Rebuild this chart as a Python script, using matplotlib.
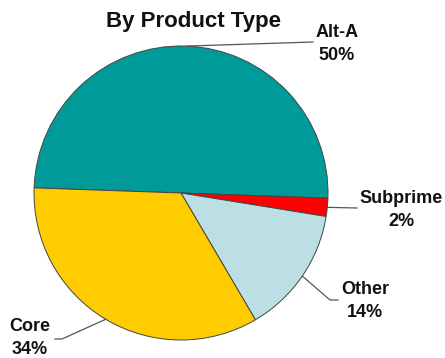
import numpy as np
import matplotlib.pyplot as plt

labels = ["Alt-A", "Subprime", "Other", "Core"]
shares = [50, 2, 14, 34]
colors = ["#009a98", "#ff0000", "#bcdfe3", "#ffcc00"]

W, H = 445, 358
cx, cy, r = 181, H - 193, 147

plt.rcParams["font.family"] = ["Liberation Sans", "DejaVu Sans"]
fig = plt.figure(figsize=(W / 100, H / 100), dpi=100)
ax = fig.add_axes([0, 0, 1, 1])

wedges, _ = ax.pie(shares, colors=colors, startangle=178, counterclock=False,
                   center=(cx, cy), radius=r, frame=True,
                   wedgeprops=dict(edgecolor="#444444", linewidth=0.7))
ax.set_xlim(0, W)
ax.set_ylim(0, H)
ax.axis("off")

ax.text(194, H - 21, "By Product Type", ha="center", va="center",
        fontsize=16, fontweight="bold", color="#111111")

# leader line bends and label centres (x, y from the top-left)
leaders = {
    "Alt-A": ([(313, 42)], (337, 44)),
    "Subprime": ([(357, 208)], (401, 210)),
    "Other": ([(330, 300), (338, 300)], (365, 301)),
    "Core": ([(62, 339), (55, 339)], (30, 338)),
}

for w, lab, val in zip(wedges, labels, shares):
    ang = np.deg2rad((w.theta1 + w.theta2) / 2)
    x0 = cx + r * np.cos(ang)
    y0 = cy + r * np.sin(ang)
    pts, (tx, ty) = leaders[lab]
    xs = [x0] + [p[0] for p in pts]
    ys = [y0] + [H - p[1] for p in pts]
    ax.plot(xs, ys, color="#555555", linewidth=0.9)
    ax.text(tx, H - ty, f"{lab}\n{val}%", ha="center", va="center",
            fontsize=13, fontweight="bold", color="#111111", linespacing=1.45)

fig.savefig("out.png", dpi=100)
